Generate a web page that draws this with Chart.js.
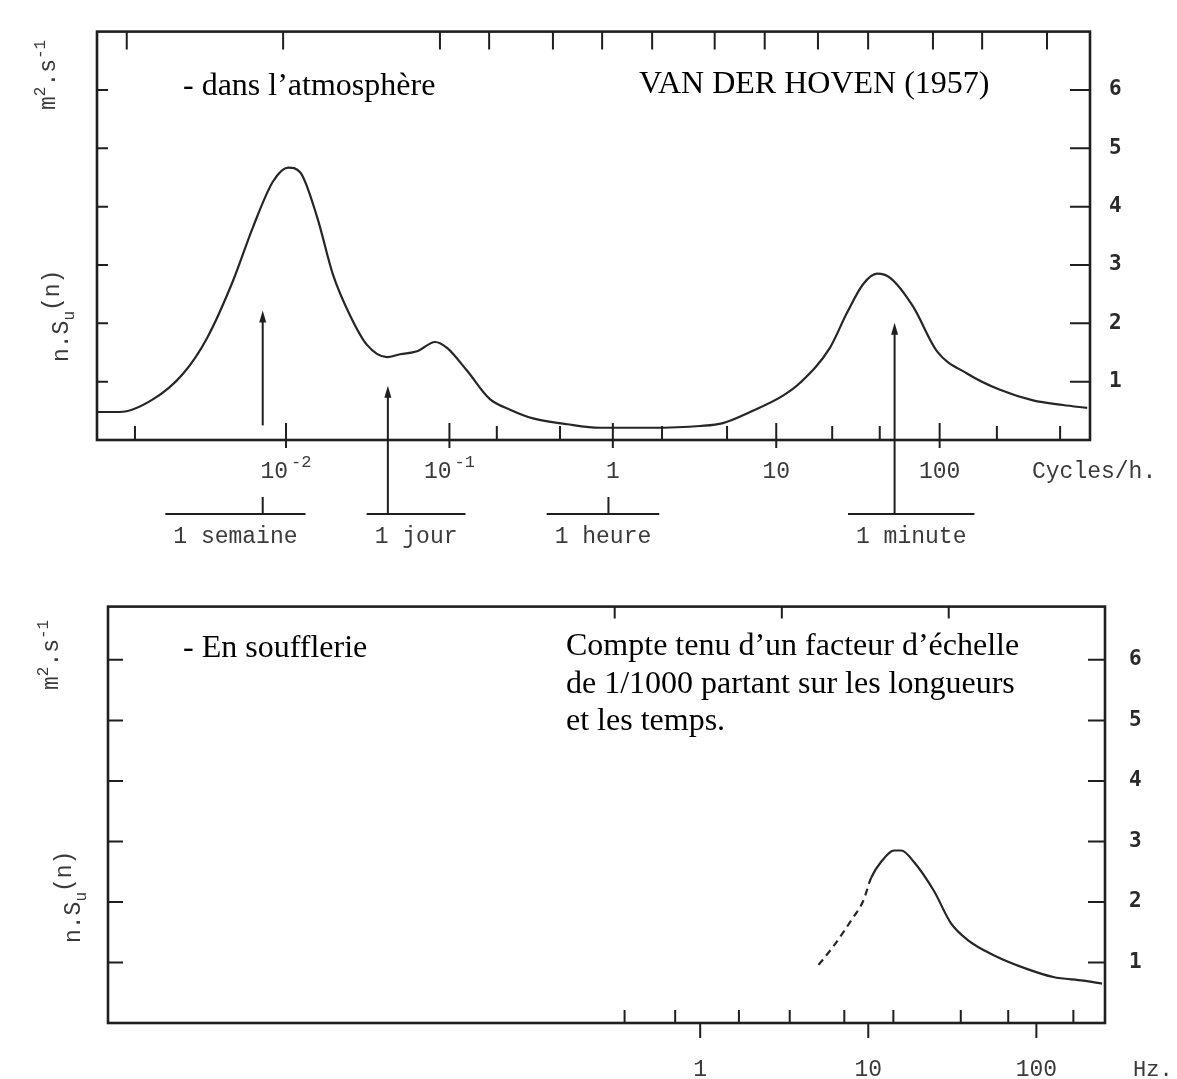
<!DOCTYPE html>
<html lang="fr">
<head>
<meta charset="UTF-8">
<title>Spectre de la vitesse du vent</title>
<script src="https://cdn.jsdelivr.net/npm/chart.js"></script>
<style>
  html, body { margin: 0; padding: 0; background: #fff; }
  body { width: 1177px; height: 1079px; position: relative; overflow: hidden; }
  canvas { position: absolute; left: 0; }
  #atmo { top: 0; }
  #wind { top: 570px; }
</style>
</head>
<body>
<canvas id="atmo" width="1177" height="575"></canvas>
<canvas id="wind" width="1177" height="509"></canvas>
<script>
// atmosphere spectrum (Van der Hoven 1957), frequency in cycles/h
const atmoFreq = [0.000697, 0.00096, 0.00154, 0.00235, 0.00329, 0.00474, 0.00628, 0.00832, 0.0103, 0.0122,
  0.0155, 0.0194, 0.0247, 0.0313, 0.0415, 0.0499, 0.0634, 0.0817, 0.0967, 0.128,
  0.177, 0.235, 0.325, 0.525, 0.835, 1.69, 3.42, 4.72, 6.92, 11.0,
  14.0, 21.3, 27.1, 34.0, 41.4, 49.8, 68.7, 96.4, 147, 234,
  373, 569, 800];
const atmoSpectrum = [0.48, 0.48, 0.70, 1.14, 1.75, 2.73, 3.65, 4.43, 4.67, 4.59,
  3.82, 2.83, 2.13, 1.63, 1.42, 1.47, 1.52, 1.68, 1.58, 1.19,
  0.70, 0.52, 0.37, 0.27, 0.21, 0.21, 0.24, 0.29, 0.48, 0.76,
  0.98, 1.58, 2.18, 2.67, 2.85, 2.78, 2.29, 1.52, 1.14, 0.86,
  0.68, 0.60, 0.55];

// wind tunnel spectrum, frequency in Hz; the first points are dashed
const windFreq = [5.06, 6.29, 7.93, 9.34, 10.4, 11.9, 14.3, 15.7, 18.7, 24.6, 31.0, 39.1, 55.7, 88.5, 126, 190, 246];
const windSpectrum = [0.96, 1.29, 1.70, 2.02, 2.40, 2.66, 2.85, 2.85, 2.66, 2.18, 1.65, 1.37, 1.12, 0.89, 0.76, 0.70, 0.65];
const windDashedUntil = 4;

const yTicks = [1, 2, 3, 4, 5, 6];

// axis ticks, upper panel
const atmoMajorTicks = [0.01, 0.1, 1, 10, 100];
const atmoMajorLabels = [['10', '-2'], ['10', '-1'], ['1', ''], ['10', ''], ['100', '']];
const atmoMinorTicks = [0.00119, 0.195, 0.475, 2, 5, 22, 43, 224, 546];
const atmoTopTicks = [0.00106, 0.0096, 0.0875, 0.175, 0.43, 0.86, 1.74, 4.2, 8.5, 18, 36.5, 91, 182, 454];

// axis ticks, lower panel
const windMajorTicks = [1, 10, 100];
const windMajorLabels = [['1', ''], ['10', ''], ['100', '']];
const windMinorTicks = [0.355, 0.71, 1.7, 3.41, 7.2, 14.1, 35.5, 68, 166];
const windTopTicks = [0.31, 3.06, 30.1];

// periods marked under the upper panel (cycles/h)
const periodNames = ['1 semaine', '1 jour', '1 heure', '1 minute'];
const periodFreq = [0.0072, 0.042, 0.94, 53];
const periodCaptionFreq = [0.0049, 0.0625, 0.87, 67];
const periodArrowTip = [null, 0.93, null, 2.01];
const weekArrow = { freq: 0.0072, from: 0.25, to: 2.22 };

const INK = '#1f1f1f';
const TYPE = '#3a3a3a';
const MONO = '"Liberation Mono", "DejaVu Sans Mono", monospace';
const SERIF = '"Liberation Serif", "Times New Roman", serif';

function arrowUp(ctx, x, yTip) {
  ctx.beginPath();
  ctx.moveTo(x, yTip);
  ctx.lineTo(x - 3.5, yTip + 12);
  ctx.lineTo(x + 3.5, yTip + 12);
  ctx.closePath();
  ctx.fill();
}

// rotated text made of [text, size, shift] pieces, shift > 0 = subscript
function rotatedText(ctx, x, y, parts) {
  ctx.save();
  ctx.translate(x, y);
  ctx.rotate(-Math.PI / 2);
  let cx = 0;
  for (const [text, size, shift] of parts) {
    ctx.font = size + 'px ' + MONO;
    ctx.fillText(text, cx, shift);
    cx += ctx.measureText(text).width;
  }
  ctx.restore();
}

function makeFigurePlugin(p) {
  return {
    id: 'figure',
    afterDraw(chart) {
      const { ctx, chartArea: a } = chart;
      const xs = chart.scales.x, ys = chart.scales.y;
      const px = v => xs.getPixelForValue(v);
      const py = v => ys.getPixelForValue(v);
      const oy = v => v - p.top;
      ctx.save();

      // frame and ticks
      ctx.strokeStyle = INK;
      ctx.lineWidth = 2.6;
      ctx.strokeRect(a.left, a.top, a.right - a.left, a.bottom - a.top);
      ctx.lineWidth = 2;
      ctx.beginPath();
      for (const v of yTicks) {
        const yy = py(v);
        ctx.moveTo(a.left, yy); ctx.lineTo(a.left + p.leftTick, yy);
        ctx.moveTo(a.right, yy); ctx.lineTo(a.right - p.rightTick, yy);
      }
      for (const v of p.topTicks) {
        const xx = px(v);
        ctx.moveTo(xx, a.top); ctx.lineTo(xx, a.top + p.topTickLen);
      }
      for (const v of p.minorTicks) {
        const xx = px(v);
        ctx.moveTo(xx, a.bottom); ctx.lineTo(xx, a.bottom - p.minorLen);
      }
      for (const v of p.majorTicks) {
        const xx = px(v);
        ctx.moveTo(xx, a.bottom - p.majorUp); ctx.lineTo(xx, a.bottom + p.majorDown);
      }
      ctx.stroke();

      // frequency labels
      ctx.fillStyle = TYPE;
      ctx.textAlign = 'left';
      ctx.textBaseline = 'alphabetic';
      const base = oy(p.labelBaseline);
      p.majorTicks.forEach((v, i) => {
        const [txt, exp] = p.majorLabels[i];
        ctx.font = '23px ' + MONO;
        const bw = ctx.measureText(txt).width;
        ctx.font = '17px ' + MONO;
        const ew = exp ? ctx.measureText(exp).width + 3 : 0;
        const x0 = px(v) - (bw + ew) / 2;
        ctx.font = '23px ' + MONO;
        ctx.fillText(txt, x0, base);
        if (exp) {
          ctx.font = '17px ' + MONO;
          ctx.fillText(exp, x0 + bw + 3, base - 11);
        }
      });
      ctx.font = p.unitSize + 'px ' + MONO;
      ctx.fillText(p.unit, p.unitX, base);

      // y title
      rotatedText(ctx, p.titleX, oy(p.titleY), [['n.S', 23, 0], ['u', 16, 6], ['(n)', 23, -9]]);
      rotatedText(ctx, p.unitTitleX, oy(p.unitTitleY), [['m', 23, 0], ['2', 16, -10], ['.s', 23, 0], ['-1', 16, -10]]);

      // captions
      ctx.fillStyle = '#000';
      ctx.font = '32px ' + SERIF;
      for (const n of p.notes) {
        n.lines.forEach((line, k) => ctx.fillText(line, n.x, oy(n.y + k * 37.5)));
      }

      // period brackets with their arrows
      if (p.periods) {
        ctx.fillStyle = TYPE;
        ctx.strokeStyle = INK;
        ctx.font = '23px ' + MONO;
        ctx.lineWidth = 2;
        periodNames.forEach((name, i) => {
          const w = ctx.measureText(name).width;
          const cx = px(periodCaptionFreq[i]);
          ctx.fillText(name, cx - w / 2, 543);
          const sx = px(periodFreq[i]);
          const tip = periodArrowTip[i] == null ? 497 : py(periodArrowTip[i]);
          ctx.beginPath();
          ctx.moveTo(cx - w / 2 - 8, 514); ctx.lineTo(cx + w / 2 + 8, 514);
          ctx.moveTo(sx, 514); ctx.lineTo(sx, periodArrowTip[i] == null ? tip : tip + 8);
          ctx.stroke();
          if (periodArrowTip[i] != null) { ctx.fillStyle = INK; arrowUp(ctx, sx, tip); ctx.fillStyle = TYPE; }
        });
        const wx = px(weekArrow.freq);
        ctx.beginPath();
        ctx.moveTo(wx, py(weekArrow.from)); ctx.lineTo(wx, py(weekArrow.to) + 8);
        ctx.stroke();
        ctx.fillStyle = INK;
        arrowUp(ctx, wx, py(weekArrow.to));
      }
      ctx.restore();
    }
  };
}

function buildChart(id, freq, values, panel, scaleRange, dashedUntil) {
  return new Chart(document.getElementById(id), {
    type: 'line',
    data: {
      datasets: [{
        data: freq.map((f, i) => ({ x: f, y: values[i] })),
        borderColor: '#262626',
        borderWidth: 2.2,
        pointRadius: 0,
        fill: false,
        cubicInterpolationMode: 'monotone',
        segment: {
          borderDash: ctx => (dashedUntil != null && ctx.p0DataIndex < dashedUntil) ? [7, 5] : undefined
        }
      }]
    },
    options: {
      responsive: false,
      animation: false,
      events: [],
      layout: { padding: panel.padding },
      plugins: { legend: { display: false }, tooltip: { enabled: false } },
      scales: {
        x: { type: 'logarithmic', display: false, min: scaleRange.xMin, max: scaleRange.xMax },
        y: {
          position: 'right',
          min: 0,
          max: scaleRange.yMax,
          grid: { display: false, drawTicks: false },
          border: { display: false },
          afterBuildTicks: s => { s.ticks = yTicks.map(v => ({ value: v })); },
          afterFit: s => { s.width = panel.axisWidth; },
          ticks: {
            padding: panel.labelPad,
            color: '#2a2a2a',
            font: { family: 'DejaVu Sans Mono', size: 21, weight: 'bold' },
            callback: v => String(v)
          }
        }
      }
    },
    plugins: [makeFigurePlugin(panel)]
  });
}

const atmoPanel = {
  top: 0,
  padding: { left: 97, top: 15, right: 0, bottom: 135 },
  axisWidth: 87, labelPad: 19,
  leftTick: 11, rightTick: 20, topTickLen: 18, minorLen: 14, majorUp: 17, majorDown: 8,
  topTicks: atmoTopTicks, minorTicks: atmoMinorTicks, majorTicks: atmoMajorTicks, majorLabels: atmoMajorLabels,
  labelBaseline: 478, unit: 'Cycles/h.', unitX: 1032, unitSize: 23,
  titleX: 68, titleY: 362, unitTitleX: 55, unitTitleY: 110,
  notes: [
    { x: 183, y: 95, lines: ['- dans l’atmosphère'] },
    { x: 639, y: 93, lines: ['VAN DER HOVEN (1957)'] }
  ],
  periods: true
};

const windPanel = {
  top: 570,
  padding: { left: 108, top: 25, right: 0, bottom: 56 },
  axisWidth: 72, labelPad: 24,
  leftTick: 15, rightTick: 17, topTickLen: 12, minorLen: 13, majorUp: 0, majorDown: 15,
  topTicks: windTopTicks, minorTicks: windMinorTicks, majorTicks: windMajorTicks, majorLabels: windMajorLabels,
  labelBaseline: 1076, unit: 'Hz.', unitX: 1133, unitSize: 22,
  titleX: 80, titleY: 943, unitTitleX: 58, unitTitleY: 690,
  notes: [
    { x: 183, y: 657, lines: ['- En soufflerie'] },
    { x: 566, y: 655, lines: ['Compte tenu d’un facteur d’échelle', 'de 1/1000 partant sur les longueurs', 'et les temps.'] }
  ],
  periods: false
};

buildChart('atmo', atmoFreq, atmoSpectrum, atmoPanel, { xMin: 0.000697, xMax: 832, yMax: 7 }, null);
buildChart('wind', windFreq, windSpectrum, windPanel, { xMin: 0.000323, xMax: 256, yMax: 6.88 }, windDashedUntil);
</script>
</body>
</html>
